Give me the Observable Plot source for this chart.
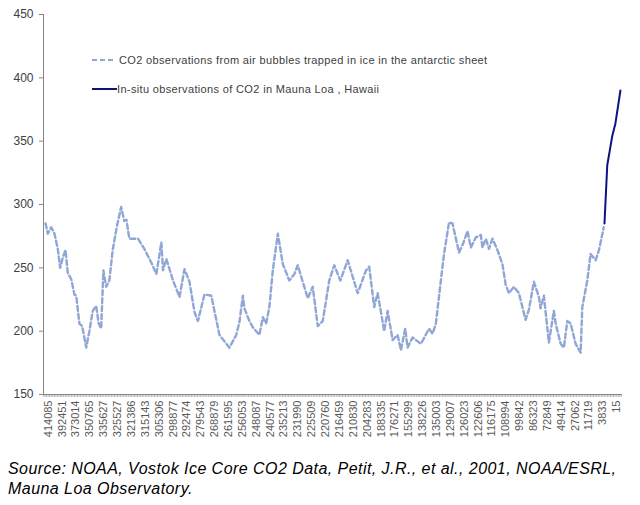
<!DOCTYPE html>
<html><head><meta charset="utf-8">
<script src="https://cdn.jsdelivr.net/npm/d3@7"></script>
<script src="https://cdn.jsdelivr.net/npm/@observablehq/plot@0.6"></script>
<style>
body{margin:0;background:#fff;font-family:"Liberation Sans",Arial,sans-serif;}
#wrap{position:relative;width:640px;height:450px;}
#legend{position:absolute;left:92px;top:53px;font-size:11px;letter-spacing:0.35px;color:#404040;}
#legend .row{display:flex;align-items:center;height:14px;white-space:nowrap;}
#legend .row2{margin-top:15px;}
#legend svg{display:block;}
#caption{font-style:italic;font-size:16px;letter-spacing:0.45px;line-height:20px;color:#000;padding:9px 0 0 8px;white-space:nowrap;}
</style>
</head><body>
<div id="wrap"><div id="chart"></div>
<div id="legend">
  <div class="row"><svg width="27" height="6"><line x1="0" x2="22" y1="3" y2="3" stroke="#8FA6D6" stroke-width="2.2" stroke-dasharray="5,3"/></svg><span id="lg1"></span></div>
  <div class="row row2"><svg width="25" height="6"><line x1="0" x2="25" y1="3" y2="3" stroke="#0A1580" stroke-width="2"/></svg><span id="lg2"></span></div>
</div></div>
<div id="caption"></div>
<script>
const seriesNames = ["CO2 observations from air bubbles trapped in ice in the antarctic sheet", "In-situ observations of CO2 in Mauna Loa , Hawaii"];
const captionLines = ["Source: NOAA, Vostok Ice Core CO2 Data, Petit, J.R., et al., 2001, NOAA/ESRL,", "Mauna Loa Observatory."];
const ageLabels = ["414085","392451","373014","350765","335627","325527","321386","315143","305306","298877","292474","279543","268879","261595","256053","248087","240577","235213","231990","225509","220760","216459","210830","204283","188335","176271","155299","138226","135003","129007","126023","122606","116175","108994","99842","86323","72849","49414","27062","11719","3833","15"];
const yTicks = [150,200,250,300,350,400,450];
// position along the age axis, in units of labelled categories
const vostokSlot = [-0.19,-0.03,0.22,0.45,0.69,0.86,1.05,1.25,1.41,1.66,1.89,2.02,2.25,2.45,2.74,2.97,3.21,3.46,3.64,3.82,3.98,4.18,4.41,4.65,4.94,5.26,5.49,5.64,5.85,6.12,6.48,6.93,7.44,7.80,8.16,8.28,8.52,9.00,9.47,9.83,10.19,10.55,10.80,11.27,11.76,12.35,13.07,13.56,13.79,14.04,14.15,14.51,14.76,15.23,15.48,15.72,15.95,16.20,16.56,16.92,17.39,17.75,18.00,18.47,18.72,19.08,19.44,19.80,20.27,20.63,21.07,21.60,22.32,22.92,23.15,23.51,23.76,24.00,24.23,24.48,24.84,25.20,25.44,25.75,25.92,26.28,26.52,26.88,27.47,27.72,27.96,28.32,28.55,28.91,29.16,29.63,29.92,30.24,30.48,30.84,31.20,31.32,31.56,31.79,32.04,32.40,32.76,32.99,33.23,33.59,33.95,34.43,34.67,35.03,35.39,35.51,35.75,36.11,36.47,36.60,36.96,37.19,37.44,37.68,38.04,38.40,38.52,38.88,39.12,39.49,39.72,40.07];
const vostokCO2 = [285,277,282,277,265,250,258,264,246,241,229,228,206,204,187,200,216,220,206,202,248,235,240,264,282,298,287,288,273,273,273,265,254,245,270,248,257,240,227,249,239,215,208,229,228,197,187,197,207,228,218,208,203,197,211,206,219,248,277,253,240,245,252,235,226,235,204,208,240,252,240,256,230,248,251,219,230,215,200,216,193,197,185,202,187,195,193,190,202,198,206,240,261,286,285,262,269,279,266,274,276,266,273,265,273,264,253,237,230,235,230,209,217,239,227,218,228,191,216,206,190,187,208,206,190,183,219,240,261,256,264,282];
const maunaSlot = [40.12,40.32,40.68,40.91,41.27];
const maunaCO2 = [285,331,354,364,390];

const vostok = vostokSlot.map((s,i)=>({slot:s, co2:vostokCO2[i]}));
const mauna = maunaSlot.map((s,i)=>({slot:s, co2:maunaCO2[i]}));
const xDomain = [-0.34, 41.42];
const minorTicks = d3.range(-3, 373).map(i => i/9);

const chart = Plot.plot({
  width: 640, height: 450,
  marginTop: 14, marginBottom: 56, marginLeft: 43, marginRight: 18,
  style: {fontFamily: "'Liberation Sans', Arial, sans-serif", background: "#fff"},
  x: {domain: xDomain},
  y: {domain: [150, 450]},
  marks: [
    Plot.axisY({ticks: yTicks, tickSize: 4, tickPadding: 6, fontSize: 12, stroke: "#868686", color: "#404040", label: null}),
    Plot.axisX({ticks: minorTicks, tickSize: 3, tickFormat: () => "", stroke: "#8a8a8a", strokeWidth: 0.6, label: null}),
    Plot.axisX({ticks: d3.range(ageLabels.length), tickSize: 0, tickPadding: 6, tickRotate: -90, tickFormat: i => ageLabels[i], fontSize: 11, color: "#595959", label: null}),
    Plot.ruleX([xDomain[0]], {stroke: "#868686"}),
    Plot.ruleY([150], {stroke: "#868686"}),
    Plot.line(vostok, {x: "slot", y: "co2", stroke: "#8FA6D6", strokeWidth: 2.4, strokeDasharray: "5,3"}),
    Plot.line(mauna, {x: "slot", y: "co2", stroke: "#0A1580", strokeWidth: 2})
  ]
});
document.getElementById("chart").append(chart);
document.getElementById("lg1").textContent = seriesNames[0];
document.getElementById("lg2").textContent = seriesNames[1];
const cap = document.getElementById("caption");
captionLines.forEach((t, i) => { if (i) cap.append(document.createElement("br")); cap.append(t); });
</script>
</body></html>
